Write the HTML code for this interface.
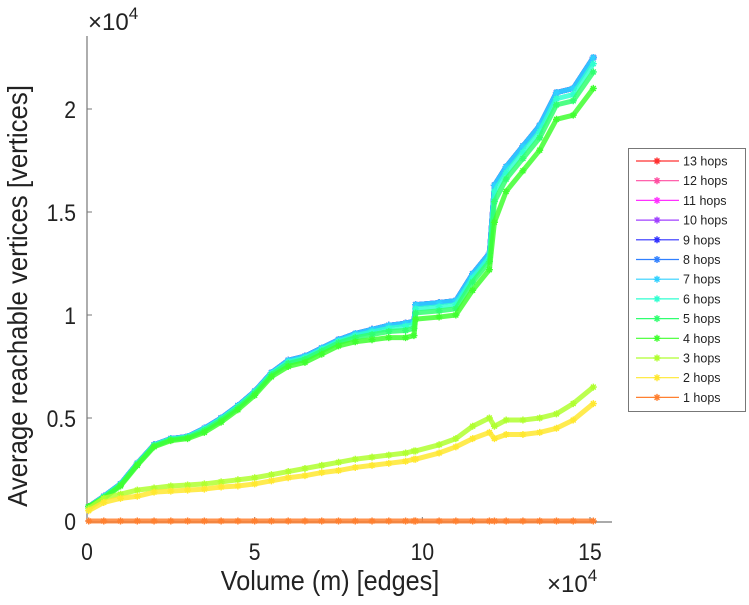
<!DOCTYPE html>
<html><head><meta charset="utf-8"><style>
body{margin:0;background:#fff;}
svg{font-family:"Liberation Sans",sans-serif;}
</style></head><body>
<svg id="chart" width="749" height="600" xmlns="http://www.w3.org/2000/svg">
<g id="axes"></g>
<g id="series"></g>
<g id="legend"></g>
</svg>
<script>
const xs=[0.05,0.5,1,1.5,2,2.5,3,3.5,4,4.5,5,5.5,6,6.5,7,7.5,8,8.5,9,9.5,9.75,9.8,10.5,11,11.5,12,12.15,12.5,13,13.5,14,14.5,15.1];
const hop9=[0.07,0.12,0.18,0.28,0.37,0.40,0.41,0.45,0.50,0.56,0.63,0.72,0.78,0.80,0.84,0.88,0.91,0.93,0.95,0.96,0.97,1.05,1.06,1.07,1.20,1.30,1.63,1.72,1.82,1.92,2.08,2.10,2.25];
const hop6=[0.07,0.118,0.178,0.278,0.368,0.398,0.408,0.445,0.495,0.555,0.625,0.715,0.772,0.792,0.832,0.872,0.9,0.918,0.935,0.945,0.955,1.03,1.04,1.05,1.18,1.28,1.6,1.69,1.79,1.89,2.05,2.07,2.22];
const hop5=[0.07,0.115,0.175,0.275,0.365,0.395,0.405,0.44,0.49,0.55,0.62,0.71,0.765,0.785,0.825,0.865,0.89,0.905,0.92,0.925,0.935,1.01,1.02,1.03,1.16,1.26,1.55,1.66,1.76,1.86,2.02,2.04,2.18];
const hop4=[0.07,0.11,0.17,0.27,0.36,0.39,0.40,0.43,0.48,0.54,0.61,0.70,0.75,0.77,0.81,0.85,0.87,0.88,0.89,0.89,0.90,0.98,0.99,1.00,1.12,1.22,1.45,1.60,1.70,1.80,1.95,1.97,2.10];
const hop3=[0.06,0.11,0.13,0.15,0.16,0.17,0.175,0.18,0.19,0.20,0.21,0.225,0.24,0.255,0.27,0.285,0.30,0.31,0.32,0.33,0.34,0.34,0.37,0.40,0.46,0.50,0.46,0.49,0.49,0.50,0.52,0.57,0.65];
const hop2=[0.05,0.09,0.11,0.12,0.14,0.145,0.15,0.155,0.165,0.17,0.18,0.195,0.21,0.22,0.235,0.245,0.26,0.27,0.28,0.29,0.30,0.30,0.33,0.36,0.40,0.43,0.40,0.42,0.42,0.43,0.45,0.49,0.57];
const hop1=[0,0,0,0,0,0,0,0,0,0,0,0,0,0,0,0,0,0,0,0,0,0,0,0,0,0,0,0,0,0,0,0,0];
const seriesNames=["13 hops","12 hops","11 hops","10 hops","9 hops","8 hops","7 hops","6 hops","5 hops","4 hops","3 hops","2 hops","1 hops"];
const seriesData=[hop9,hop9,hop9,hop9,hop9,hop9,hop9,hop6,hop5,hop4,hop3,hop2,hop1];
const seriesColors=["#ff3030","#ff4da0","#ff30ff","#a040ff","#3030ff","#3080ff","#30d0ff","#30ffd0","#30ff70","#40ff30","#b0ff30","#ffe830","#ff8030"];
const xTicks=[0,5,10,15];
const yTicks=[0,0.5,1,1.5,2];
const yTickLabels=["0","0.5","1","1.5","2"];

const NS="http://www.w3.org/2000/svg";
const X0=87,X1=590,Y0=521,Y1=109;
const sx=v=>X0+(v/15)*(X1-X0);
const sy=v=>Y0-(v/2)*(Y0-Y1);
function mk(tag,attrs,parent){const e=document.createElementNS(NS,tag);for(const k in attrs)e.setAttribute(k,attrs[k]);parent.appendChild(e);return e;}
const axes=document.getElementById('axes');
let l=mk('line',{x1:X0,y1:36,x2:X0,y2:522,stroke:'#777','stroke-width':1.2},axes);


l=mk('line',{x1:X0,y1:522,x2:612,y2:522,stroke:'#777','stroke-width':1.2},axes);


xTicks.forEach(t=>{
  const tk=mk('line',{x1:sx(t),y1:522,x2:sx(t),y2:517,stroke:'#777'},axes);
  
  
  const tx=mk('text',{x:sx(t),y:560,'font-size':24,'text-anchor':'middle',fill:'#222',transform:`translate(${sx(t)},0) scale(0.88,1) translate(${-sx(t)},0)`},axes);
  tx.textContent=t;
  
  
});
yTicks.forEach((t,i)=>{
  const tk=mk('line',{x1:X0,y1:sy(t),x2:X0+5,y2:sy(t),stroke:'#777'},axes);
  
  
  const tx=mk('text',{x:76,y:sy(t)+9,'font-size':24,'text-anchor':'end',fill:'#222',transform:`translate(76,0) scale(0.88,1) translate(-76,0)`},axes);
  tx.textContent=yTickLabels[i];
  
  
});
let t=mk('text',{x:0,y:0,'font-size':28,'text-anchor':'middle',fill:'#222',transform:'translate(330,590) scale(0.9,1)'},axes);
t.textContent='Volume (m) [edges]';


t=mk('text',{x:0,y:0,'font-size':28,'text-anchor':'middle',fill:'#222',transform:'translate(27,296) rotate(-90) scale(0.92,1)'},axes);
t.textContent='Average reachable vertices [vertices]';


t=mk('text',{x:88,y:30,'font-size':24,fill:'#222'},axes);
t.innerHTML='×10<tspan dy="-11" font-size="17">4</tspan>';


t=mk('text',{x:547,y:592,'font-size':24,fill:'#222'},axes);
t.innerHTML='×10<tspan dy="-11" font-size="17">4</tspan>';



function star(x,y,r){return `M${x-r},${y}L${x+r},${y}M${x},${y-r}L${x},${y+r}M${x-r*0.7},${y-r*0.7}L${x+r*0.7},${y+r*0.7}M${x-r*0.7},${y+r*0.7}L${x+r*0.7},${y-r*0.7}`;}
const sg=document.getElementById('series');
seriesData.forEach((d,i)=>{
  const g=mk('g',{},sg);
  
  
  const pts=d.map((v,j)=>sx(xs[j])+','+sy(v)).join(' ');
  const pl=mk('polyline',{points:pts,fill:'none',stroke:seriesColors[i],'stroke-width':5,'stroke-linejoin':'round','stroke-opacity':0.85},g);
  
  
  let p='';
  d.forEach((v,j)=>{p+=star(sx(xs[j]),sy(v),3.5);});
  const mp=mk('path',{d:p,stroke:seriesColors[i],'stroke-width':1.4,fill:'none'},g);
  
  
});

const lg=document.getElementById('legend');
let r=mk('rect',{x:628.5,y:148.5,width:117,height:263,fill:'#fff',stroke:'#777'},lg);


seriesNames.forEach((n,i)=>{
  const y=161+i*19.7;
  const g=mk('g',{},lg);
  
  
  mk('line',{x1:636,y1:y,x2:679,y2:y,stroke:seriesColors[i],'stroke-width':1.2},g);
  mk('path',{d:star(657,y,3.5),stroke:seriesColors[i],'stroke-width':1.4},g);
  const tx=mk('text',{x:683,y:y+4.5,'font-size':12.5,fill:'#222'},g);
  tx.textContent=n;
});
</script>
</body></html>
